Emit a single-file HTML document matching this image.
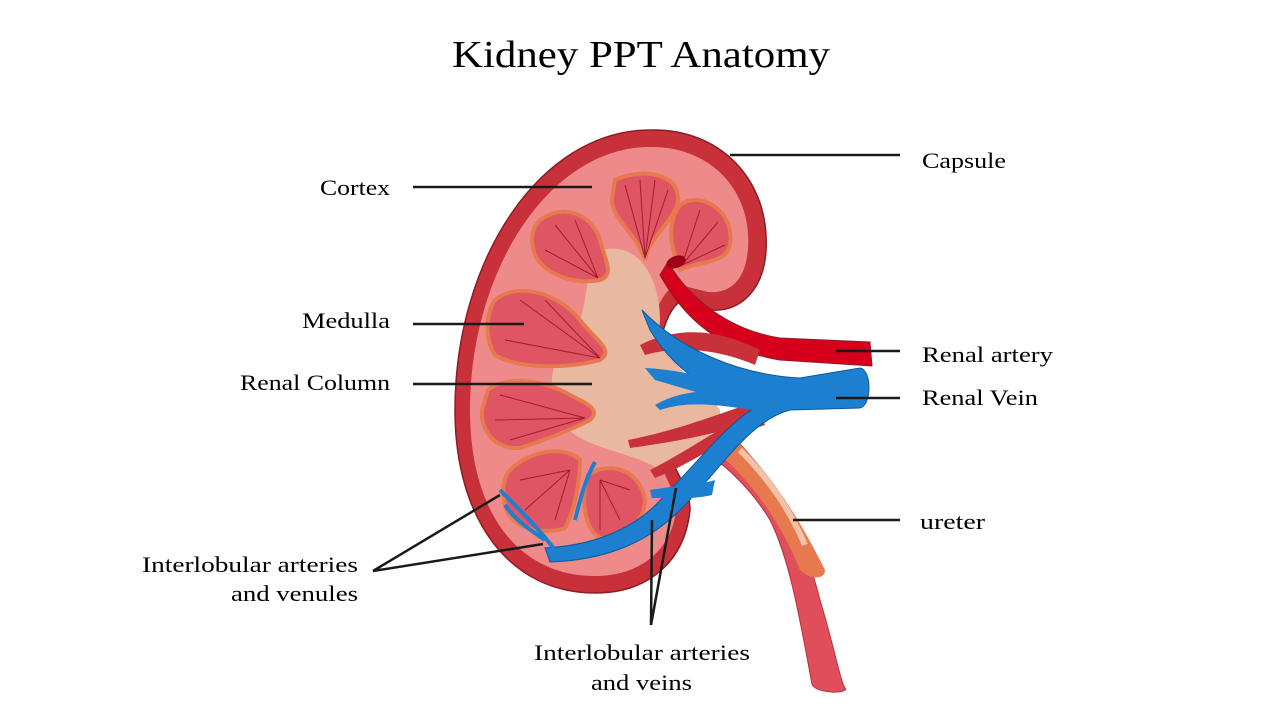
<!DOCTYPE html>
<html><head><meta charset="utf-8"><style>
html,body{margin:0;padding:0;background:#fff;}
svg{display:block;}
text{font-family:"Liberation Serif",serif;fill:#000;}
</style></head><body>
<svg width="1280" height="720" viewBox="0 0 1280 720" xmlns="http://www.w3.org/2000/svg">
<text x="452" y="67" font-size="38" textLength="378" lengthAdjust="spacingAndGlyphs">Kidney PPT Anatomy</text>

<!-- ureter -->
<path d="M700,410 C760,450 800,520 820,600 C835,650 840,680 845,688 C850,694 815,694 812,684 C800,620 790,560 770,520 C740,470 700,450 690,440 Z" fill="#e04e5c" stroke="#b8303a" stroke-width="1"/>
<path d="M725,430 C770,470 800,520 825,570 C825,580 810,580 800,570 C780,520 750,480 715,450 Z" fill="#e7794f"/>
<path d="M740,450 C770,480 790,510 805,545" stroke="#f2c2a8" stroke-width="6" fill="none"/>

<!-- outer capsule -->
<path d="M650,130 C720,128 770,180 766,250 C764,290 740,312 712,310 L682,300 C662,312 652,360 660,420 C668,470 690,482 690,510 C685,560 650,593 595,593 C510,593 455,520 455,410 C455,260 540,130 650,130 Z" fill="#c8303a" stroke="#8a1e26" stroke-width="1.5"/>
<!-- cortex -->
<path d="M650,147 C710,146 752,190 748,248 C746,282 728,294 708,292 L676,284 C650,300 640,360 648,420 C656,470 676,485 676,510 C672,550 640,576 595,576 C520,576 470,515 470,410 C470,270 550,147 650,147 Z" fill="#ef8a8a"/>
<!-- sinus -->
<path d="M600,250 C640,240 660,280 660,320 C655,360 700,380 720,410 C720,450 680,470 660,470 C630,450 580,450 560,420 C540,380 560,340 580,320 C590,290 585,260 600,250 Z" fill="#e8b8a0"/>
<!-- pyramids -->
<g fill="#df5563" stroke="#e7794f" stroke-width="4">
<path d="M615,180 C640,168 680,172 678,200 C676,220 650,235 645,260 C638,235 612,220 612,200 Z"/>
<path d="M680,205 C700,190 735,210 730,245 C725,265 700,260 680,270 C672,250 665,225 680,205 Z"/>
<path d="M540,220 C560,205 590,210 600,240 C605,260 615,275 600,280 C575,285 545,275 535,255 C530,240 532,228 540,220 Z"/>
<path d="M495,300 C520,280 560,295 580,320 C595,340 615,350 600,360 C570,368 520,370 495,355 C485,340 485,315 495,300 Z"/>
<path d="M488,390 C505,375 545,380 570,395 C590,405 600,410 590,420 C570,430 545,440 520,448 C495,450 480,430 482,410 Z"/>
<path d="M510,470 C530,450 565,445 580,460 C580,480 575,510 565,528 C545,535 510,530 505,505 C502,490 503,478 510,470 Z"/>
<path d="M588,475 C610,460 640,470 645,500 C645,525 620,540 600,538 C585,530 580,500 588,475 Z"/>
</g>
<g stroke="#a01e30" stroke-width="1" fill="none">
<path d="M645,258 L625,185 M645,258 L640,180 M645,258 L655,180 M645,258 L668,190"/>
<path d="M682,265 L700,210 M682,265 L718,222 M682,265 L725,245"/>
<path d="M598,278 L555,225 M598,278 L575,220 M598,278 L545,250"/>
<path d="M600,358 L520,300 M600,358 L545,300 M600,358 L505,340"/>
<path d="M585,418 L500,395 M585,418 L495,420 M585,418 L510,440"/>
<path d="M570,470 L520,480 M570,470 L525,510 M570,470 L555,520"/>
<path d="M600,480 L630,490 M600,480 L620,520 M600,480 L600,530"/>
</g>

<!-- renal artery -->
<path d="M668,262 C690,300 730,330 780,338 L870,342 L872,366 L780,360 C720,350 685,320 660,275 Z" fill="#d6001c" stroke="#8a1e26" stroke-width="1"/>
<ellipse cx="676" cy="262" rx="10" ry="6" fill="#a00014" transform="rotate(-20 676 262)"/>
<path d="M640,345 C680,325 720,330 760,350 L755,365 C720,350 680,345 645,355 Z" fill="#c8303a"/>
<path d="M628,440 C680,430 730,410 760,400 L765,418 C730,430 690,440 630,448 Z" fill="#c8303a"/>
<path d="M650,470 C690,450 730,420 760,410 L765,425 C720,440 690,465 655,478 Z" fill="#c8303a"/>

<!-- renal vein -->
<path d="M642,310 C680,350 740,375 800,378 L860,368 C872,370 872,405 860,408 L790,410 C750,420 720,470 680,510 C650,540 610,560 550,562 L545,548 C600,545 640,525 665,495 C700,460 730,420 760,405 C720,395 680,380 650,330 Z" fill="#1d7fcf" stroke="#0d5a9a" stroke-width="1"/>
<path d="M645,368 C690,370 730,385 770,395 L765,410 C720,400 690,390 655,380 Z" fill="#1d7fcf"/>
<path d="M655,405 C690,385 730,390 770,400 L765,412 C720,405 690,400 660,410 Z" fill="#1d7fcf"/>
<path d="M650,490 C680,485 700,485 715,480 L712,495 C690,500 670,498 652,498 Z" fill="#1d7fcf"/>
<path d="M500,490 C520,510 540,530 555,550 M575,520 C580,500 585,480 595,462 M545,540 C530,530 515,520 505,505" stroke="#1d7fcf" stroke-width="4" fill="none"/>

<g stroke="#1a1a1a" stroke-width="2.5">
<line x1="730" y1="155" x2="900" y2="155"/>
<line x1="413" y1="187" x2="592" y2="187"/>
<line x1="413" y1="324" x2="524" y2="324"/>
<line x1="413" y1="384" x2="592" y2="384"/>
<line x1="836" y1="351" x2="900" y2="351"/>
<line x1="836" y1="398" x2="900" y2="398"/>
<line x1="793" y1="520" x2="900" y2="520"/>
<line x1="373" y1="571" x2="500" y2="495"/>
<line x1="373" y1="571" x2="543" y2="544"/>
<line x1="651" y1="625" x2="652" y2="520"/>
<line x1="651" y1="625" x2="676" y2="488"/>
</g>

<g font-size="22" lengthAdjust="spacingAndGlyphs">
<text x="922" y="168" textLength="84" lengthAdjust="spacingAndGlyphs">Capsule</text>
<text x="320" y="195" textLength="70" lengthAdjust="spacingAndGlyphs">Cortex</text>
<text x="302" y="328" textLength="88" lengthAdjust="spacingAndGlyphs">Medulla</text>
<text x="240" y="390" textLength="150" lengthAdjust="spacingAndGlyphs">Renal Column</text>
<text x="922" y="362" textLength="131" lengthAdjust="spacingAndGlyphs">Renal artery</text>
<text x="922" y="405" textLength="116" lengthAdjust="spacingAndGlyphs">Renal Vein</text>
<text x="920" y="529" textLength="65" lengthAdjust="spacingAndGlyphs">ureter</text>
<text x="142" y="572" textLength="216" lengthAdjust="spacingAndGlyphs">Interlobular arteries</text>
<text x="231" y="601" textLength="127" lengthAdjust="spacingAndGlyphs">and venules</text>
<text x="534" y="660" textLength="216" lengthAdjust="spacingAndGlyphs">Interlobular arteries</text>
<text x="591" y="690" textLength="101" lengthAdjust="spacingAndGlyphs">and veins</text>
</g>
</svg>
</body></html>
